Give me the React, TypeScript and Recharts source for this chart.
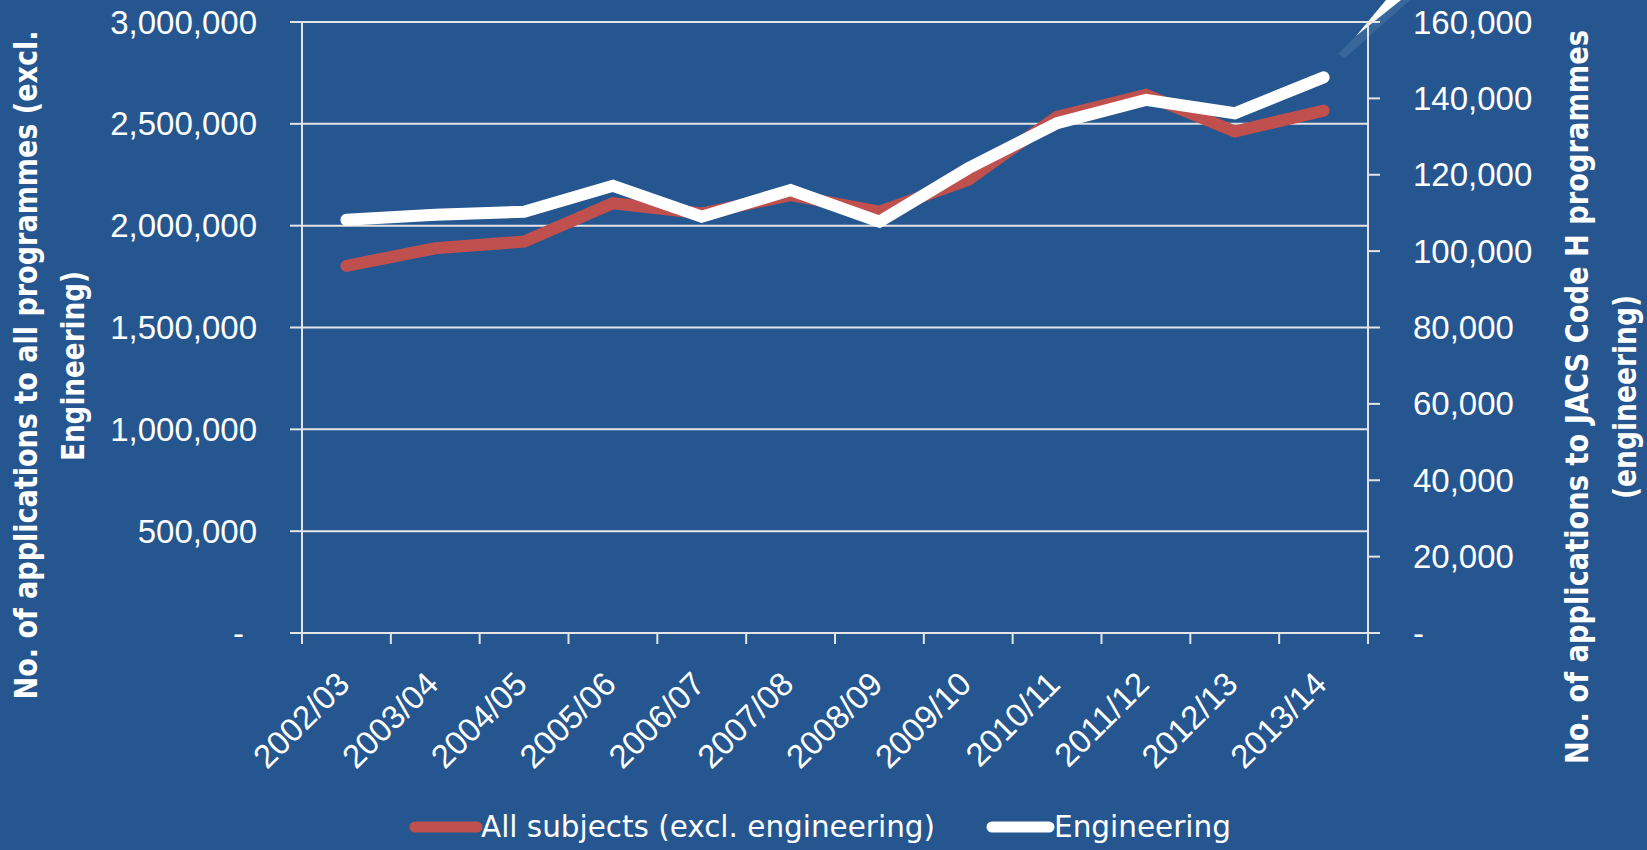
import React from "react";
import {
  LineChart,
  Line,
  XAxis,
  YAxis,
  CartesianGrid,
  Legend,
  Customized,
} from "recharts";

// academic years on the category axis
const years = [
  "2002/03", "2003/04", "2004/05", "2005/06", "2006/07", "2007/08",
  "2008/09", "2009/10", "2010/11", "2011/12", "2012/13", "2013/14",
];
// applications to all programmes excl. engineering (left axis)
const allSubjects = [
  1803000, 1889000, 1922000, 2110000, 2060000, 2150000,
  2069000, 2225000, 2535000, 2642000, 2462000, 2565000,
];
// applications to JACS code H programmes (right axis)
const engineering = [
  108200, 109500, 110300, 117100, 109000, 116000,
  107700, 121700, 133500, 139600, 136100, 145500,
];
const leftTicks = [0, 500000, 1000000, 1500000, 2000000, 2500000, 3000000];
const rightTicks = [0, 20000, 40000, 60000, 80000, 100000, 120000, 140000, 160000];

const data = years.map((year, i) => ({
  year,
  all: allSubjects[i],
  eng: engineering[i],
}));

const W = 1647;
const H = 850;
const BG = "#25568f";
const RED = "#c0504d";
const AXIS = "#e4e4e4";
const PLOT_LEFT = 302;
const PLOT_RIGHT = 1368;
const PLOT_TOP = 22;
const PLOT_BOTTOM = 633;
const BAND = (PLOT_RIGHT - PLOT_LEFT) / years.length;
const FONT = "'Liberation Sans', Arial, sans-serif";
const NARROW = "'Liberation Sans Narrow', 'DejaVu Sans Condensed', 'Liberation Sans', sans-serif";

const fmt = (v: number) => (v === 0 ? "-" : v.toLocaleString("en-US"));

const LeftTick = (props: any) => {
  const v = props.payload.value;
  return (
    <text x={v === 0 ? 244 : 257} y={props.y} dy="0.35em" textAnchor="end"
      fill="#fff" fontSize={33} fontFamily={FONT}>
      {fmt(v)}
    </text>
  );
};

const RightTick = (props: any) => {
  const v = props.payload.value;
  return (
    <text x={1413} y={props.y} dy="0.35em" textAnchor="start"
      fill="#fff" fontSize={33} fontFamily={FONT}>
      {fmt(v)}
    </text>
  );
};

const XTick = (props: any) => {
  const { x, payload, index } = props;
  const tx = x + 5;
  const ty = 686;
  return (
    <g>
      <line x1={x - BAND / 2} x2={x - BAND / 2} y1={PLOT_BOTTOM} y2={PLOT_BOTTOM + 11}
        stroke={AXIS} strokeWidth={2} />
      {index === years.length - 1 && (
        <line x1={x + BAND / 2} x2={x + BAND / 2} y1={PLOT_BOTTOM} y2={PLOT_BOTTOM + 11}
          stroke={AXIS} strokeWidth={2} />
      )}
      <text x={tx} y={ty} textAnchor="end" fill="#fff" fontSize={33}
        fontFamily={FONT} transform={`rotate(-45, ${tx}, ${ty})`}>
        {payload.value}
      </text>
    </g>
  );
};

function vTitle(x: number, cy: number, len: number, s: string) {
  return (
    <g transform={`translate(${x}, ${cy}) rotate(-90)`}>
      <text x={0} y={0} textAnchor="middle" fill="#fff" fontSize={32}
        fontWeight="bold" fontFamily={NARROW} textLength={len}
        lengthAdjust="spacingAndGlyphs">
        {s}
      </text>
    </g>
  );
}

const Titles = () => (
  <g>
    {vTitle(37, 365, 669, "No. of applications to all programmes (excl.")}
    {vTitle(84, 366, 190, "Engineering)")}
    {vTitle(1588, 397, 734, "No. of applications to JACS Code H programmes")}
    {vTitle(1636, 397, 204, "(engineering)")}
    {/* decorative callout spike, top right */}
    <path d="M1338,54 L1392,0 L1410,0 L1345,58 Z" fill="#4a73a3" opacity={0.6} />
    <path d="M1356,36 L1386,0 L1401,0 Z" fill="#fff" />
  </g>
);

const LegendContent = () => (
  <svg width={W} height={50}>
    <line x1={415} x2={477} y1={27} y2={27} stroke={RED} strokeWidth={11} strokeLinecap="round" />
    <text x={481} y={37} fill="#fff" fontSize={31} fontFamily={NARROW}
      textLength={454} lengthAdjust="spacingAndGlyphs">
      All subjects (excl. engineering)
    </text>
    <line x1={992} x2={1049} y1={27} y2={27} stroke="#fff" strokeWidth={11} strokeLinecap="round" />
    <text x={1054} y={37} fill="#fff" fontSize={31} fontFamily={NARROW}
      textLength={177} lengthAdjust="spacingAndGlyphs">
      Engineering
    </text>
  </svg>
);

export default function App() {
  return (
    <div style={{ position: "absolute", left: 0, top: 0, width: W, height: H, background: BG }}>
      <LineChart width={W} height={H} data={data}
        margin={{ top: PLOT_TOP, right: 0, bottom: 0, left: 0 }}>
        <CartesianGrid yAxisId="left" vertical={false} stroke={AXIS} strokeWidth={2} />
        <XAxis dataKey="year" height={H - PLOT_BOTTOM} interval={0}
          padding={{ left: BAND / 2, right: BAND / 2 }}
          axisLine={{ stroke: AXIS, strokeWidth: 2 }} tickLine={false} tick={<XTick />} />
        <YAxis yAxisId="left" orientation="left" width={PLOT_LEFT}
          domain={[0, 3000000]} ticks={leftTicks} interval={0}
          axisLine={{ stroke: AXIS, strokeWidth: 2 }} tickLine={{ stroke: AXIS, strokeWidth: 2 }}
          tickSize={12} tick={<LeftTick />} />
        <YAxis yAxisId="right" orientation="right" width={W - PLOT_RIGHT}
          domain={[0, 160000]} ticks={rightTicks} interval={0}
          axisLine={{ stroke: AXIS, strokeWidth: 2 }} tickLine={{ stroke: AXIS, strokeWidth: 2 }}
          tickSize={12} tick={<RightTick />} />
        <Line yAxisId="left" dataKey="all" type="linear" stroke={RED} strokeWidth={12}
          strokeLinecap="round" strokeLinejoin="miter" dot={false} activeDot={false}
          isAnimationActive={false} />
        <Line yAxisId="right" dataKey="eng" type="linear" stroke="#fff" strokeWidth={12}
          strokeLinecap="round" strokeLinejoin="miter" dot={false} activeDot={false}
          isAnimationActive={false} />
        <Legend layout="horizontal" verticalAlign="middle" align="center"
          wrapperStyle={{ position: "absolute", left: 0, top: 800, width: W, height: 50 }}
          content={<LegendContent />} />
        <Customized component={<Titles />} />
      </LineChart>
    </div>
  );
}
